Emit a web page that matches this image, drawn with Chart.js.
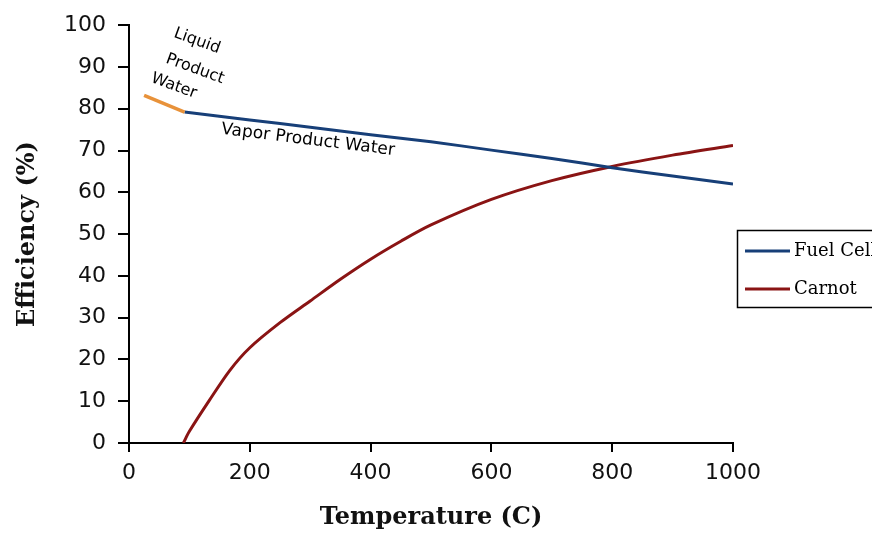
<!DOCTYPE html>
<html>
<head>
<meta charset="utf-8">
<script src="https://cdn.jsdelivr.net/npm/chart.js@4.4.1/dist/chart.umd.min.js"></script>
<style>
  html, body { margin: 0; padding: 0; background: #fff; }
  #wrap { width: 872px; height: 538px; }
</style>
</head>
<body>
<div id="wrap"><canvas id="chart" width="872" height="538"></canvas></div>
<script>
// values
const liquidTemp = [25, 92];
const liquidEff = [83.2, 79.2];

const vaporTemp = [92, 200, 300, 400, 500, 600, 700, 800, 900, 1000];
const vaporEff = [79.2, 77.3, 75.6, 73.8, 72.1, 70.1, 68.1, 65.9, 63.9, 62.0];

const carnotTemp = [90, 100, 133, 167, 200, 250, 300, 350, 400, 450, 500, 600, 700, 800, 900, 1000];
const carnotEff = [0, 2.8, 10.2, 17.4, 22.8, 28.8, 34.0, 39.2, 44.0, 48.3, 52.2, 58.3, 62.8, 66.2, 68.9, 71.2];

const xTicks = [0, 200, 400, 600, 800, 1000];
const yTicks = [0, 10, 20, 30, 40, 50, 60, 70, 80, 90, 100];

const legendItems = ['Fuel Cell', 'Carnot'];

const BLUE = '#173f78';
const RED = '#8a1414';
const ORANGE = '#e8923a';

function toPoints(xs, ys) {
    return xs.map((x, i) => ({ x: x, y: ys[i] }));
}

// annotations + legend box drawn on top
const extras = {
    id: 'extras',
    afterDraw(chart) {
        const ctx = chart.ctx;
        ctx.save();
        ctx.fillStyle = '#000';
        ctx.font = '16px "DejaVu Sans"';
        ctx.textAlign = 'center';
        ctx.textBaseline = 'middle';

        const notes = [
            ['Liquid', 197, 41, 20],
            ['Product', 195, 69, 20],
            ['Water', 174, 86, 20]
        ];
        notes.forEach(([txt, x, y, deg]) => {
            ctx.save();
            ctx.translate(x, y);
            ctx.rotate(deg * Math.PI / 180);
            ctx.fillText(txt, 0, 0);
            ctx.restore();
        });
        ctx.save();
        ctx.font = '17px "DejaVu Sans"';
        ctx.translate(308, 140);
        ctx.rotate(7 * Math.PI / 180);
        ctx.fillText('Vapor Product Water', 0, 0);
        ctx.restore();

        // legend
        ctx.strokeStyle = '#000';
        ctx.lineWidth = 1.5;
        ctx.strokeRect(737.5, 230.5, 150, 77);
        const colors = [BLUE, RED];
        const rows = [251, 289];
        ctx.font = '18px "DejaVu Serif"';
        ctx.textAlign = 'left';
        legendItems.forEach((name, i) => {
            ctx.strokeStyle = colors[i];
            ctx.lineWidth = 3;
            ctx.beginPath();
            ctx.moveTo(745, rows[i]);
            ctx.lineTo(790, rows[i]);
            ctx.stroke();
            ctx.fillStyle = '#000';
            ctx.fillText(name, 794, rows[i]);
        });
        ctx.restore();
    }
};

const ctx = document.getElementById('chart').getContext('2d');
new Chart(ctx, {
    type: 'scatter',
    data: {
        datasets: [
            {
                label: 'Liquid Product Water',
                data: toPoints(liquidTemp, liquidEff),
                showLine: true,
                borderColor: ORANGE,
                borderWidth: 3.5,
                pointRadius: 0
            },
            {
                label: 'Fuel Cell',
                data: toPoints(vaporTemp, vaporEff),
                showLine: true,
                borderColor: BLUE,
                borderWidth: 3,
                pointRadius: 0,
                tension: 0.3
            },
            {
                label: 'Carnot',
                data: toPoints(carnotTemp, carnotEff),
                showLine: true,
                borderColor: RED,
                borderWidth: 3,
                pointRadius: 0,
                tension: 0.3
            }
        ]
    },
    options: {
        responsive: false,
        animation: false,
        layout: { padding: { left: 0, right: 139, top: 20, bottom: 0 } },
        plugins: {
            legend: { display: false },
            tooltip: { enabled: false }
        },
        scales: {
            x: {
                type: 'linear',
                min: 0,
                max: 1000,
                afterBuildTicks: (scale) => { scale.ticks = xTicks.map(v => ({ value: v })); },
                afterFit: (scale) => { scale.height = 95; },
                border: { display: true, color: '#000', width: 2 },
                grid: { drawOnChartArea: false, drawTicks: true, tickLength: 9, color: '#000', lineWidth: 2 },
                ticks: {
                    color: '#111',
                    padding: 8,
                    font: { family: '"DejaVu Sans"', size: 22 },
                    maxRotation: 0,
                    callback: (v) => String(v)
                },
                title: {
                    display: true,
                    text: 'Temperature (C)',
                    color: '#111',
                    font: { family: '"DejaVu Serif"', size: 24, weight: 'bold' },
                    padding: { top: 0, bottom: 6 }
                }
            },
            y: {
                min: 0,
                max: 100,
                afterBuildTicks: (scale) => { scale.ticks = yTicks.map(v => ({ value: v })); },
                afterFit: (scale) => { scale.width = 129; },
                border: { display: true, color: '#000', width: 2 },
                grid: { drawOnChartArea: false, drawTicks: true, tickLength: 11, color: '#000', lineWidth: 2 },
                ticks: { color: '#111', padding: 12, font: { family: '"DejaVu Sans"', size: 22 } },
                title: {
                    display: true,
                    text: 'Efficiency (%)',
                    color: '#111',
                    font: { family: '"DejaVu Serif"', size: 24, weight: 'bold' },
                    padding: { top: 13, bottom: 0 }
                }
            }
        }
    },
    plugins: [extras]
});
</script>
</body>
</html>
